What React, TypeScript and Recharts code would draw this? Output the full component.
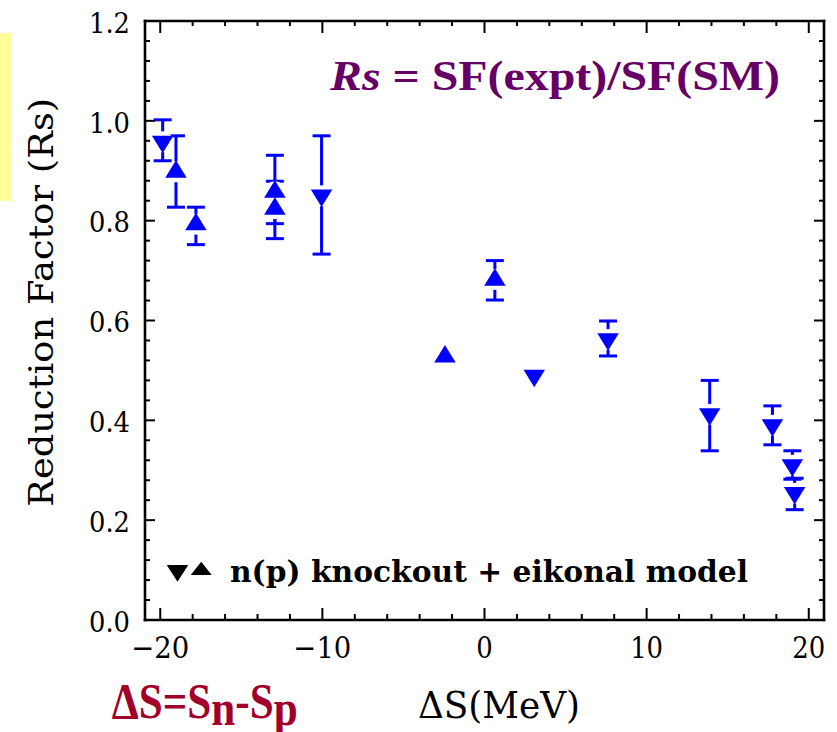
import React from 'react';
import { ScatterChart, Scatter, XAxis, YAxis, ErrorBar, Legend } from 'recharts';

// ▼ neutron-knockout systems: ΔS (MeV), reduction factor Rs, lower / upper uncertainty
const nKnockoutDS = [-19.85, -10.05, 7.62, 13.89, 17.76, 18.99, 19.13];
const nKnockoutRs = [0.958, 0.85, 0.562, 0.412, 0.39, 0.31, 0.254];
const nKnockoutErrLow = [0.038, 0.117, 0.033, 0.073, 0.039, 0.028, 0.033];
const nKnockoutErrHigh = [0.044, 0.12, 0.037, 0.068, 0.039, 0.029, 0.03];

// ▲ proton-knockout systems
const pKnockoutDS = [-19.03, -17.8, -12.93, 0.64];
const pKnockoutRs = [0.898, 0.793, 0.858, 0.682];
const pKnockoutErrLow = [0.071, 0.041, 0.064, 0.041];
const pKnockoutErrHigh = [0.072, 0.034, 0.073, 0.038];

// second ▲ value sharing ΔS with the third entry above
const pKnockoutPairDS = [-12.93];
const pKnockoutPairRs = [0.824];
const pKnockoutPairErrLow = [0.06];
const pKnockoutPairErrHigh = [0.055];

// values quoted without an uncertainty
const nPlainDS = [3.07];
const nPlainRs = [0.489];
const pPlainDS = [-2.44];
const pPlainRs = [0.528];

// axis ticks (every entry gets a tick mark, the major ones also a label)
const xTicks = [-20, -18, -16, -14, -12, -10, -8, -6, -4, -2, 0, 2, 4, 6, 8, 10, 12, 14, 16, 18, 20];
const xMajorTicks = [-20, -10, 0, 10, 20];
const xTickLabels = ['\u221220', '\u221210', '0', '10', '20'];
const yTicks = [
  0, 0.04, 0.08, 0.12, 0.16, 0.2, 0.24, 0.28, 0.32, 0.36, 0.4, 0.44, 0.48, 0.52, 0.56, 0.6,
  0.64, 0.68, 0.72, 0.76, 0.8, 0.84, 0.88, 0.92, 0.96, 1.0, 1.04, 1.08, 1.12, 1.16, 1.2,
];
const yMajorTicks = [0, 0.2, 0.4, 0.6, 0.8, 1.0, 1.2];
const yTickLabels = ['0.0', '0.2', '0.4', '0.6', '0.8', '1.0', '1.2'];

const X_DOMAIN: [number, number] = [-20.94, 20.94];
const Y_DOMAIN: [number, number] = [0, 1.2];

const BLUE = '#0000ff';
const TYPE = "'DejaVu Serif', 'Liberation Serif', serif";
const SERIF = "'Liberation Serif', 'DejaVu Serif', serif";

type Pt = { x: number; y: number; err?: [number, number] };
const toPoints = (xs: number[], ys: number[], lo?: number[], hi?: number[]): Pt[] =>
  xs.map((x, i) => (lo && hi ? { x, y: ys[i], err: [lo[i], hi[i]] } : { x, y: ys[i] }));

const nPoints = toPoints(nKnockoutDS, nKnockoutRs, nKnockoutErrLow, nKnockoutErrHigh);
const pPoints = toPoints(pKnockoutDS, pKnockoutRs, pKnockoutErrLow, pKnockoutErrHigh);
const pPairPoints = toPoints(pKnockoutPairDS, pKnockoutPairRs, pKnockoutPairErrLow, pKnockoutPairErrHigh);
const nPlainPoints = toPoints(nPlainDS, nPlainRs);
const pPlainPoints = toPoints(pPlainDS, pPlainRs);

// triangle markers sit in a small white disc so error bars stop short of them
const TRI_W = 21.5;
const TRI_TIP = 11.4;
const TRI_BASE = 6.1;
const HALO_R = 10.5;

const UpMarker = (props: any) => {
  const { cx, cy } = props;
  if (cx == null || cy == null) return null;
  return (
    <g>
      <circle cx={cx} cy={cy} r={HALO_R} fill="#fff" />
      <polygon
        points={`${cx},${cy - TRI_TIP} ${cx + TRI_W / 2},${cy + TRI_BASE} ${cx - TRI_W / 2},${cy + TRI_BASE}`}
        fill={BLUE}
      />
    </g>
  );
};

const DownMarker = (props: any) => {
  const { cx, cy } = props;
  if (cx == null || cy == null) return null;
  return (
    <g>
      <circle cx={cx} cy={cy} r={HALO_R} fill="#fff" />
      <polygon
        points={`${cx},${cy + TRI_TIP} ${cx + TRI_W / 2},${cy - TRI_BASE} ${cx - TRI_W / 2},${cy - TRI_BASE}`}
        fill={BLUE}
      />
    </g>
  );
};

const near = (a: number, b: number) => Math.abs(a - b) < 1e-6;
const majorIndex = (list: number[], v: number) => list.findIndex((m) => near(m, v));

// inward-pointing tick marks on all four sides of the frame
const BottomTick = (props: any) => {
  const { x, y, payload } = props;
  const idx = majorIndex(xMajorTicks, payload.value);
  const major = idx >= 0;
  const label = major ? xTickLabels[idx] : '';
  const len = label.startsWith('\u2212') ? 58 : 16.5 * label.length;
  return (
    <g>
      <line x1={x} y1={y} x2={x} y2={y - (major ? 12 : 6)} stroke="#000" strokeWidth={2} />
      {major && (
        <text
          x={x}
          y={y + 38.3}
          textAnchor="middle"
          fontFamily={TYPE}
          fontSize={30}
          fill="#000"
          textLength={len}
          lengthAdjust="spacingAndGlyphs"
        >
          {label}
        </text>
      )}
    </g>
  );
};

const TopTick = (props: any) => {
  const { x, y, payload } = props;
  const major = majorIndex(xMajorTicks, payload.value) >= 0;
  return <line x1={x} y1={y} x2={x} y2={y + (major ? 12 : 5)} stroke="#000" strokeWidth={2} />;
};

const LeftTick = (props: any) => {
  const { x, y, payload } = props;
  const idx = majorIndex(yMajorTicks, payload.value);
  const major = idx >= 0;
  return (
    <g>
      <line x1={x} y1={y} x2={x + (major ? 10 : 5)} y2={y} stroke="#000" strokeWidth={2} />
      {major && (
        <text
          x={x - 15}
          y={y + 11.7}
          textAnchor="end"
          fontFamily={TYPE}
          fontSize={27.5}
          fill="#000"
          textLength={41}
          lengthAdjust="spacingAndGlyphs"
        >
          {yTickLabels[idx]}
        </text>
      )}
    </g>
  );
};

const RightTick = (props: any) => {
  const { x, y, payload } = props;
  const major = majorIndex(yMajorTicks, payload.value) >= 0;
  return <line x1={x} y1={y} x2={x - (major ? 10 : 5)} y2={y} stroke="#000" strokeWidth={2} />;
};

const frameLine = { stroke: '#000', strokeWidth: 2.6, strokeLinecap: 'square' as const };

const LegendBox = () => (
  <svg width={837} height={732} style={{ position: 'absolute', left: 0, top: 0, overflow: 'visible' }}>
    <polygon points="166.7,565 188.3,565 177.5,581.7" fill="#000" />
    <polygon points="201.2,561.7 211.7,575 190.7,575" fill="#000" />
    <text
      x={230}
      y={581.7}
      fontFamily={TYPE}
      fontWeight="bold"
      fontSize={29}
      fill="#000"
      textLength={518}
      lengthAdjust="spacingAndGlyphs"
    >
      n(p) knockout + eikonal model
    </text>
  </svg>
);

export default function App() {
  return (
    <div
      style={{
        position: 'absolute',
        left: 0,
        top: 0,
        width: 837,
        height: 732,
        background: '#fff',
        overflow: 'hidden',
      }}
    >
      <div style={{ position: 'absolute', left: 0, top: 33, width: 11, height: 168, background: '#ffff99' }} />
      <ScatterChart width={837} height={732} margin={{ top: 0, right: 0, bottom: 0, left: 0 }}>
        <XAxis
          xAxisId="bottom"
          orientation="bottom"
          type="number"
          dataKey="x"
          domain={X_DOMAIN}
          allowDataOverflow
          ticks={xTicks}
          interval={0}
          height={112}
          tickSize={0}
          tickMargin={0}
          tickLine={false}
          axisLine={frameLine}
          tick={(p: any) => <BottomTick {...p} />}
        />
        <XAxis
          xAxisId="top"
          orientation="top"
          type="number"
          dataKey="x"
          domain={X_DOMAIN}
          allowDataOverflow
          ticks={xTicks}
          interval={0}
          height={21}
          tickSize={0}
          tickMargin={0}
          tickLine={false}
          axisLine={frameLine}
          tick={(p: any) => <TopTick {...p} />}
        />
        <YAxis
          yAxisId="left"
          orientation="left"
          type="number"
          dataKey="y"
          domain={Y_DOMAIN}
          allowDataOverflow
          ticks={yTicks}
          interval={0}
          width={145}
          tickSize={0}
          tickMargin={0}
          tickLine={false}
          axisLine={frameLine}
          tick={(p: any) => <LeftTick {...p} />}
        />
        <YAxis
          yAxisId="right"
          orientation="right"
          type="number"
          dataKey="y"
          domain={Y_DOMAIN}
          allowDataOverflow
          ticks={yTicks}
          interval={0}
          width={13}
          tickSize={0}
          tickMargin={0}
          tickLine={false}
          axisLine={frameLine}
          tick={(p: any) => <RightTick {...p} />}
        />
        <Scatter
          name="n knockout"
          xAxisId="bottom"
          yAxisId="left"
          data={nPoints}
          shape={(p: any) => <DownMarker {...p} />}
          isAnimationActive={false}
        >
          <ErrorBar dataKey="err" direction="y" width={9} strokeWidth={3} stroke={BLUE} isAnimationActive={false} />
        </Scatter>
        <Scatter
          name="p knockout"
          xAxisId="bottom"
          yAxisId="left"
          data={pPoints}
          shape={(p: any) => <UpMarker {...p} />}
          isAnimationActive={false}
        >
          <ErrorBar dataKey="err" direction="y" width={9} strokeWidth={3} stroke={BLUE} isAnimationActive={false} />
        </Scatter>
        <Scatter
          name="p knockout (pair)"
          xAxisId="bottom"
          yAxisId="left"
          data={pPairPoints}
          shape={(p: any) => <UpMarker {...p} />}
          isAnimationActive={false}
        >
          <ErrorBar dataKey="err" direction="y" width={9} strokeWidth={3} stroke={BLUE} isAnimationActive={false} />
        </Scatter>
        <Scatter
          name="n knockout (no error)"
          xAxisId="bottom"
          yAxisId="left"
          data={nPlainPoints}
          shape={(p: any) => <DownMarker {...p} />}
          isAnimationActive={false}
        />
        <Scatter
          name="p knockout (no error)"
          xAxisId="bottom"
          yAxisId="left"
          data={pPlainPoints}
          shape={(p: any) => <UpMarker {...p} />}
          isAnimationActive={false}
        />
        <Legend
          layout="horizontal"
          verticalAlign="middle"
          align="center"
          wrapperStyle={{ position: 'absolute', left: 0, top: 0, width: 837, height: 732, margin: 0, pointerEvents: 'none' }}
          content={() => <LegendBox />}
        />
      </ScatterChart>
      <svg
        width={837}
        height={732}
        style={{ position: 'absolute', left: 0, top: 0, pointerEvents: 'none' }}
      >
        <text
          x={330}
          y={90}
          fontFamily={SERIF}
          fontWeight="bold"
          fontSize={43}
          fill="#660066"
          textLength={450}
          lengthAdjust="spacingAndGlyphs"
        >
          <tspan fontStyle="italic">Rs</tspan> = SF(expt)/SF(SM)
        </text>
        <text
          transform="translate(53.3,302.3) rotate(-90)"
          textAnchor="middle"
          fontFamily={TYPE}
          fontSize={34}
          fill="#000"
          textLength={409}
          lengthAdjust="spacingAndGlyphs"
        >
          Reduction Factor (Rs)
        </text>
        <text
          x={418}
          y={718.3}
          fontFamily={TYPE}
          fontSize={38}
          fill="#000"
          textLength={162}
          lengthAdjust="spacingAndGlyphs"
        >
          ΔS(MeV)
        </text>
        <text
          x={111.7}
          y={718.3}
          fontFamily={SERIF}
          fontWeight="bold"
          fontSize={50}
          fill="#a0002a"
          textLength={186}
          lengthAdjust="spacingAndGlyphs"
        >
          ΔS=S<tspan dy={7}>n</tspan>
          <tspan dy={-7}>-S</tspan>
          <tspan dy={7}>p</tspan>
        </text>
      </svg>
    </div>
  );
}
